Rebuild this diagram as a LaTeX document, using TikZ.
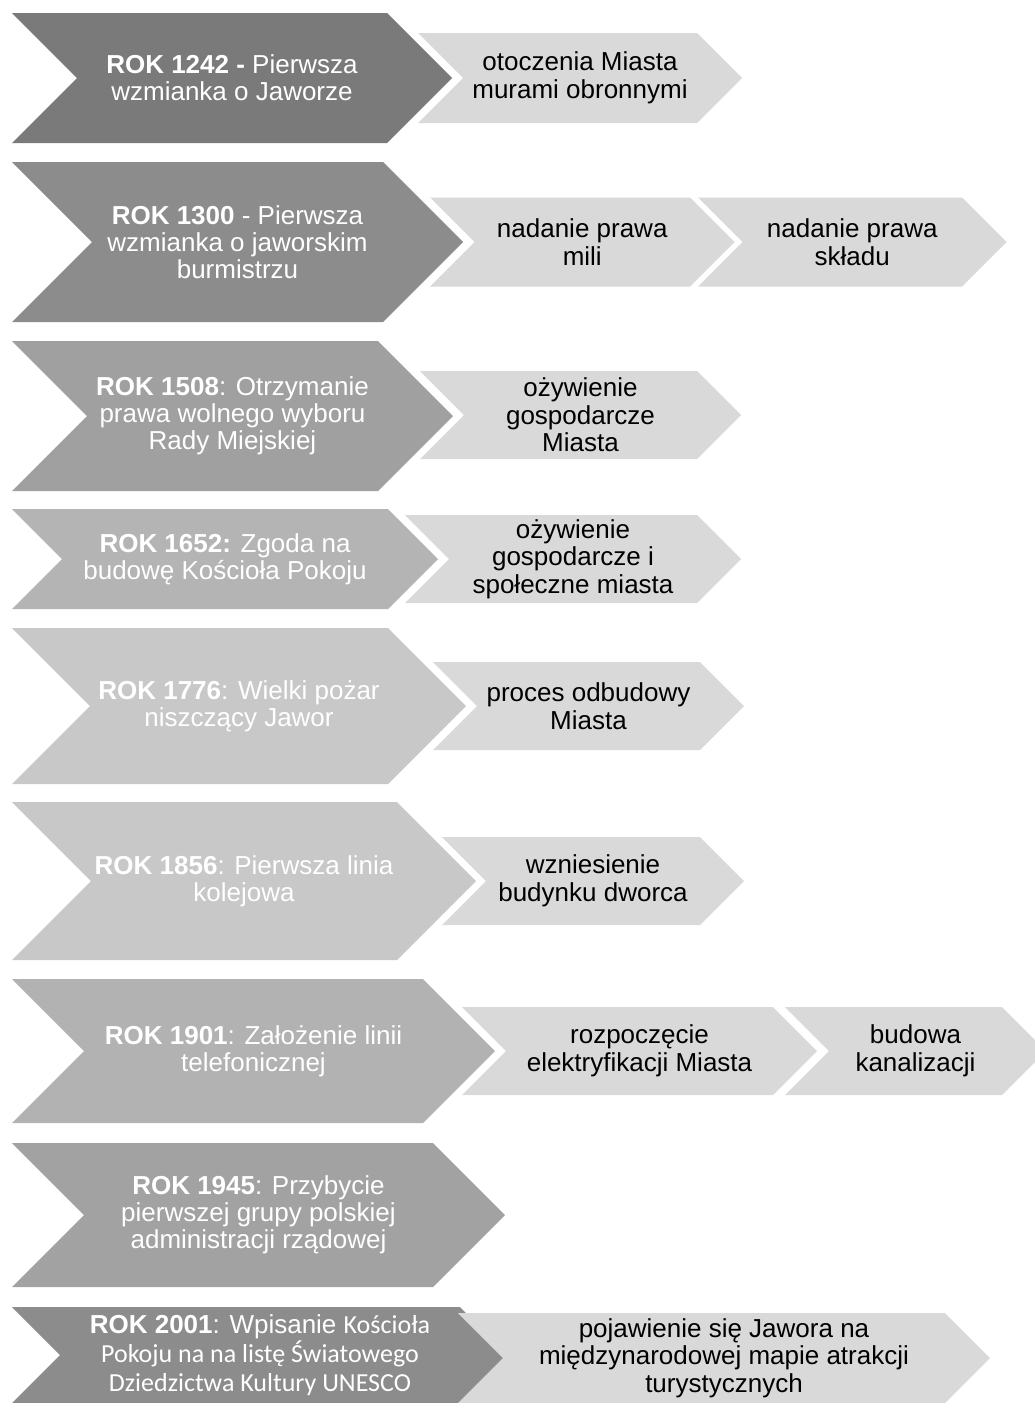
\documentclass[tikz,border=0pt]{standalone}
\usepackage{fontspec}
\setmainfont{Liberation Sans}
\newfontfamily\calibri{Carlito}
\definecolor{lightc}{HTML}{D9D9D9}
\definecolor{ca}{HTML}{7A7A7A}
\definecolor{cb}{HTML}{8C8C8C}
\definecolor{cc}{HTML}{A0A0A0}
\definecolor{cd}{HTML}{B4B4B4}
\definecolor{ce}{HTML}{C8C8C8}
\definecolor{cf}{HTML}{B2B2B2}
\definecolor{cg}{HTML}{A2A2A2}
\definecolor{ch}{HTML}{8C8C8C}
\newcommand{\chevnode}[8]{%
  \fill[#6] (#2,#4-#5/2) -- (#3,#4-#5/2) -- (#3+#5/2,#4) -- (#3,#4+#5/2) -- (#2,#4+#5/2) -- (#2+#5/2,#4) -- cycle;
  \node[#7] (#1) at ({(#2+#5/2+#3)/2},#4) {#8};
}
\tikzset{
  bigtext/.style={text=white, align=center, inner sep=0pt, font=\fontsize{26}{27}\selectfont},
  smalltext/.style={text=black, align=center, inner sep=0pt, font=\fontsize{26}{27.5}\selectfont},
}
\begin{document}
\begin{tikzpicture}[x=1pt,y=-1pt]
\useasboundingbox (0,0) rectangle (1035,1403);
\clip (0,0) rectangle (1035,1403);
\fill[white] (0,0) rectangle (1035,1403);
% row 1
\chevnode{b1}{12}{387}{78}{130}{ca}{bigtext}{\textbf{ROK 1242 -} Pierwsza\\wzmianka o Jaworze}
\chevnode{l1}{418}{697}{78}{90}{lightc}{smalltext}{otoczenia Miasta\\murami obronnymi}
% row 2
\chevnode{b2}{12}{383}{242}{160}{cb}{bigtext}{\textbf{ROK 1300} - Pierwsza\\wzmianka o jaworskim\\burmistrzu}
\chevnode{l2a}{430}{690}{242}{89}{lightc}{smalltext}{nadanie prawa\\mili}
\chevnode{l2b}{698}{962}{242}{89}{lightc}{smalltext}{nadanie prawa\\składu}
% row 3
\chevnode{b3}{12}{378}{416}{150}{cc}{bigtext}{\textbf{ROK 1508}: Otrzymanie\\prawa wolnego wyboru\\Rady Miejskiej}
\chevnode{l3}{420}{697}{415}{88}{lightc}{smalltext}{ożywienie\\gospodarcze\\Miasta}
% row 4
\chevnode{b4}{12}{388}{559}{100}{cd}{bigtext}{\textbf{ROK 1652:} Zgoda na\\budowę Kościoła Pokoju}
\chevnode{l4}{405}{697}{559}{88}{lightc}{smalltext}{ożywienie\\gospodarcze i\\społeczne miasta}
% row 5
\chevnode{b5}{12}{388}{706}{156}{ce}{bigtext}{\textbf{ROK 1776}: Wielki pożar\\niszczący Jawor}
\chevnode{l5}{433}{700}{706}{88}{lightc}{smalltext}{proces odbudowy\\Miasta}
% row 6
\chevnode{b6}{12}{397}{881}{158}{ce}{bigtext}{\textbf{ROK 1856}: Pierwsza linia\\kolejowa}
\chevnode{l6}{442}{700}{881}{88}{lightc}{smalltext}{wzniesienie\\budynku dworca}
% row 7
\chevnode{b7}{12}{423}{1051}{144}{cf}{bigtext}{\textbf{ROK 1901}: Założenie linii\\telefonicznej}
\chevnode{l7a}{462}{773}{1051}{88}{lightc}{smalltext}{rozpoczęcie\\elektryfikacji Miasta}
\chevnode{l7b}{785}{1002}{1051}{88}{lightc}{smalltext}{budowa\\kanalizacji}
% row 8
\chevnode{b8}{12}{433}{1215}{144}{cg}{bigtext}{\textbf{ROK 1945}: Przybycie\\pierwszej grupy polskiej\\administracji rządowej}
% row 9
\chevnode{b9}{12}{460}{1355}{96}{ch}{bigtext,font=\fontsize{26}{29}\selectfont}{\textbf{ROK 2001}: Wpisanie {\calibri Kościoła}\\{\calibri Pokoju na na listę Światowego}\\{\calibri Dziedzictwa Kultury UNESCO}}
\chevnode{l9}{458}{945}{1358}{90}{lightc}{smalltext}{pojawienie się Jawora na\\międzynarodowej mapie atrakcji\\turystycznych}
\end{tikzpicture}
\end{document}
